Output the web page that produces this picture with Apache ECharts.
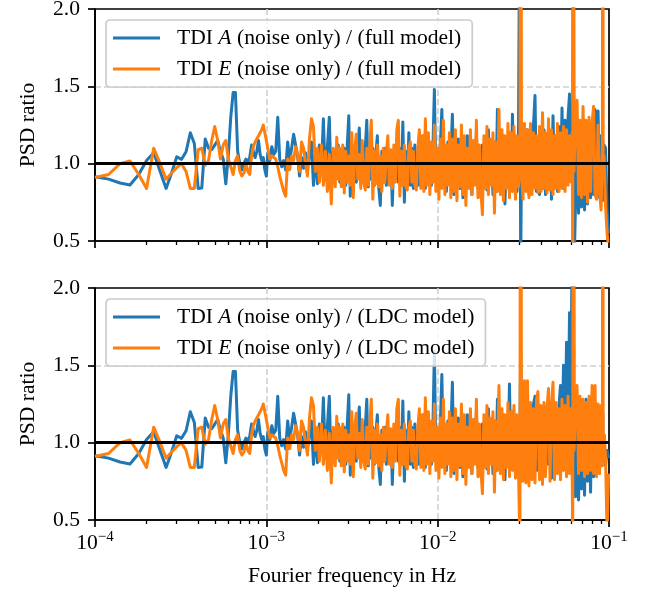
<!DOCTYPE html>
<html><head><meta charset="utf-8">
<script src="https://cdn.jsdelivr.net/npm/echarts@6/dist/echarts.min.js"></script>
<style>html,body{margin:0;padding:0;background:#fff}#main{width:650px;height:597px}</style>
</head><body><div id="main"></div>
<script>
// ---------------- data ----------------
const xTickValues = [1e-4, 1e-3, 1e-2, 1e-1];
const xMinorTicks = [2e-4,3e-4,4e-4,5e-4,6e-4,7e-4,8e-4,9e-4,2e-3,3e-3,4e-3,5e-3,6e-3,7e-3,8e-3,9e-3,2e-2,3e-2,4e-2,5e-2,6e-2,7e-2,8e-2,9e-2];

// 1e-4 .. 1e-3 Hz
const freqLow = [1.0e-4,1.2e-4,1.4e-4,1.6e-4,1.8e-4,2.0e-4,2.2e-4,2.4e-4,2.6e-4,2.8e-4,
  3.0e-4,3.2e-4,3.4e-4,3.6e-4,3.8e-4,4.0e-4,4.2e-4,4.4e-4,4.6e-4,4.8e-4,
  5.0e-4,5.2e-4,5.4e-4,5.6e-4,5.8e-4,6.0e-4,6.2e-4,6.4e-4,6.6e-4,6.8e-4,
  7.0e-4,7.2e-4,7.4e-4,7.6e-4,7.8e-4,8.0e-4,8.2e-4,8.4e-4,8.6e-4,8.8e-4,
  9.0e-4,9.2e-4,9.4e-4,9.6e-4,9.8e-4,10.0e-4];
const A_low = [0.916,0.90,0.875,0.862,0.93,1.02,1.07,0.95,0.84,0.94,
  1.045,1.028,1.077,1.20,1.131,0.84,0.842,1.16,1.10,1.09,
  1.12,1.15,1.08,1.03,0.87,1.05,1.30,1.46,1.46,1.08,
  1.00,0.96,1.00,1.03,1.01,1.04,1.12,1.13,1.04,1.08,
  1.15,1.06,1.02,1.04,0.96,0.92];
const E_low = [0.91,0.93,1.00,1.017,0.93,0.84,1.10,1.00,0.90,0.94,
  0.974,1.00,0.95,0.84,0.84,1.09,1.10,0.99,1.02,1.15,
  1.24,1.15,1.03,1.12,1.15,1.03,0.98,0.93,1.02,1.05,
  0.95,0.92,0.94,1.00,0.95,0.93,1.05,1.11,1.14,1.16,
  1.15,1.20,1.22,1.25,1.20,1.15];

// 1e-3 .. 2.5e-3 Hz
const freqMid1 = [1.020e-3,1.048e-3,1.076e-3,1.105e-3,1.135e-3,1.166e-3,1.197e-3,1.230e-3,1.263e-3,1.297e-3,
  1.332e-3,1.368e-3,1.405e-3,1.443e-3,1.482e-3,1.522e-3,1.563e-3,1.605e-3,1.649e-3,1.693e-3,
  1.739e-3,1.786e-3,1.834e-3,1.884e-3,1.935e-3,1.987e-3,2.041e-3,2.096e-3,2.152e-3,2.210e-3,
  2.270e-3,2.331e-3,2.394e-3,2.459e-3,2.525e-3];
const A_mid1 = [1.07,1.02,1.11,1.06,1.08,1.30,1.03,0.98,1.02,0.96,
  1.14,1.02,1.10,1.19,1.12,1.05,0.92,1.04,0.97,1.07,
  0.96,1.05,1.14,0.86,1.08,0.87,1.12,0.95,1.29,0.90,
  1.10,1.30,0.82,1.08,0.92];
const E_mid1 = [1.16,1.03,1.05,1.04,1.03,0.98,0.92,0.87,0.82,0.79,
  1.03,0.96,1.05,1.02,1.11,1.06,0.95,1.14,1.10,1.00,
  0.92,1.16,1.29,1.24,0.95,1.10,0.88,1.12,0.86,1.08,
  0.82,1.06,0.74,1.10,0.85];

// 2.5e-3 .. 8e-3 Hz
const freqMid2 = [2.577e-3,2.629e-3,2.683e-3,2.738e-3,2.793e-3,2.850e-3,2.908e-3,2.968e-3,3.028e-3,3.090e-3,
  3.153e-3,3.217e-3,3.283e-3,3.350e-3,3.418e-3,3.488e-3,3.559e-3,3.632e-3,3.706e-3,3.781e-3,
  3.858e-3,3.937e-3,4.017e-3,4.099e-3,4.183e-3,4.268e-3,4.355e-3,4.444e-3,4.535e-3,4.627e-3,
  4.721e-3,4.818e-3,4.916e-3,5.016e-3,5.118e-3,5.223e-3,5.329e-3,5.438e-3,5.549e-3,5.662e-3,
  5.777e-3,5.895e-3,6.015e-3,6.138e-3,6.263e-3,6.391e-3,6.521e-3,6.654e-3,6.790e-3,6.928e-3,
  7.069e-3,7.213e-3,7.360e-3,7.510e-3,7.663e-3,7.820e-3,7.979e-3];
const A_mid2 = [0.92,1.12,0.88,1.08,0.90,1.10,0.86,1.12,1.31,0.79,
  1.08,0.90,1.05,0.88,1.10,1.23,0.87,1.06,0.92,1.10,
  1.28,0.85,1.02,0.90,1.10,0.86,1.05,1.18,0.84,0.73,
  1.08,0.88,1.10,0.86,1.04,0.90,1.08,0.73,1.06,0.90,
  1.02,0.88,1.10,0.86,1.27,0.75,1.08,0.88,1.20,0.86,
  1.10,0.84,1.12,0.90,1.06,0.86,1.10];
const E_mid2 = [1.17,0.90,1.10,0.85,1.12,0.81,1.08,0.88,1.05,0.86,
  1.20,0.78,1.10,1.19,0.90,1.06,0.84,1.15,0.88,0.83,
  1.10,0.86,1.12,1.28,0.77,1.08,0.87,1.12,0.85,1.05,
  0.82,1.10,0.88,1.06,1.18,0.86,1.09,0.84,1.12,0.88,
  1.22,1.28,0.79,1.08,0.86,1.12,0.85,0.83,1.10,1.14,
  0.88,1.08,0.86,0.83,1.10,1.22,0.84];

// 8e-3 .. 1e-1 Hz
const freqHigh = [8.142e-3,8.308e-3,8.478e-3,8.651e-3,8.827e-3,9.007e-3,9.191e-3,9.378e-3,9.569e-3,9.764e-3,
  9.963e-3,10.17e-3,10.37e-3,10.58e-3,10.80e-3,11.02e-3,11.24e-3,11.47e-3,11.71e-3,11.94e-3,
  12.19e-3,12.44e-3,12.69e-3,12.95e-3,13.21e-3,13.48e-3,13.76e-3,14.04e-3,14.32e-3,14.61e-3,
  14.91e-3,15.22e-3,15.53e-3,15.84e-3,16.17e-3,16.50e-3,16.83e-3,17.18e-3,17.53e-3,17.88e-3,
  18.25e-3,18.62e-3,19.00e-3,19.39e-3,19.78e-3,20.19e-3,20.60e-3,21.02e-3,21.45e-3,21.88e-3,
  22.33e-3,22.78e-3,23.25e-3,23.72e-3,24.21e-3,24.70e-3,25.20e-3,25.72e-3,26.24e-3,26.78e-3,
  27.32e-3,27.88e-3,28.45e-3,29.03e-3,29.62e-3,30.22e-3,30.50e-3,30.84e-3,31.47e-3,32.11e-3,
  32.77e-3,33.44e-3,34.12e-3,34.82e-3,35.53e-3,36.25e-3,36.99e-3,37.74e-3,38.51e-3,39.30e-3,
  40.10e-3,40.92e-3,41.75e-3,42.60e-3,43.47e-3,44.36e-3,45.26e-3,46.18e-3,47.12e-3,48.08e-3,
  49.06e-3,50.06e-3,51.08e-3,52.12e-3,53.18e-3,54.27e-3,55.38e-3,56.51e-3,57.66e-3,58.83e-3,
  60.03e-3,60.95e-3,61.43e-3,61.90e-3,62.50e-3,63.78e-3,65.08e-3,66.41e-3,67.76e-3,69.14e-3,
  70.55e-3,71.99e-3,73.46e-3,74.96e-3,76.49e-3,78.05e-3,79.64e-3,81.26e-3,82.92e-3,84.61e-3,
  86.34e-3,88.10e-3,89.90e-3,91.55e-3,92.00e-3,92.45e-3,93.60e-3,95.51e-3,97.46e-3,99.45e-3];
const A_high_full = [0.95,1.18,0.84,1.12,0.88,1.08,0.86,1.10,1.48,0.90,
  1.06,0.84,1.12,1.35,0.88,1.08,0.82,1.14,0.90,1.06,
  1.32,0.80,1.10,0.86,1.16,0.84,1.08,0.78,1.12,0.88,
  1.18,0.86,1.06,0.80,1.14,0.88,1.20,0.84,1.08,0.78,
  1.12,0.86,1.16,0.83,1.22,0.88,1.10,0.80,1.14,0.85,
  1.35,0.86,1.12,0.82,1.18,0.74,1.10,0.86,1.20,0.84,
  1.32,0.86,1.12,0.82,1.16,3.00,0.30,1.00,0.82,1.18,
  0.84,1.22,0.80,1.16,0.86,1.25,1.44,0.82,1.12,0.80,
  1.18,0.84,1.22,0.80,1.14,0.86,1.20,0.77,1.31,0.84,
  1.18,0.82,1.24,0.86,1.36,0.84,1.28,0.88,1.30,1.45,
  0.90,1.20,1.10,3.00,0.30,0.75,1.15,0.68,1.18,0.72,
  1.20,0.70,1.16,0.74,1.22,0.78,1.20,0.80,1.35,0.82,
  1.34,0.78,1.18,0.76,1.15,0.90,1.12,1.10,0.70,0.55];
const E_high_full = [1.18,0.82,1.29,0.86,1.20,0.80,1.14,0.88,1.25,0.82,
  1.10,0.77,1.16,0.84,1.28,0.80,1.12,0.86,1.20,0.78,
  1.16,0.82,1.22,0.76,1.12,0.85,1.25,0.80,1.18,0.73,
  1.10,0.84,1.22,0.80,1.15,0.86,1.28,0.78,1.12,0.82,
  0.67,1.18,0.84,1.24,0.80,1.16,0.86,1.20,0.68,1.14,
  0.82,1.35,0.80,1.22,0.76,1.18,0.84,1.26,0.78,1.20,
  0.82,1.24,0.77,1.18,0.85,1.00,6.00,0.95,0.77,1.26,
  0.82,1.22,0.78,1.26,0.80,1.20,0.84,1.18,0.81,1.24,
  0.82,1.33,0.84,1.20,0.81,1.29,0.83,1.22,0.80,1.18,
  0.84,1.26,0.82,1.20,0.84,1.24,0.82,1.22,0.86,1.18,
  0.88,1.20,0.30,6.00,0.95,1.30,1.41,0.80,1.28,0.78,
  1.37,0.80,1.28,0.75,1.30,0.82,1.26,1.37,0.80,0.77,
  1.25,0.82,0.70,1.10,6.00,0.90,1.05,0.72,0.55,0.45];
const A_high_ldc = [0.95,1.18,0.84,1.12,0.88,1.08,0.86,1.10,1.59,0.90,
  1.06,0.84,1.12,1.44,0.88,1.08,0.82,1.14,0.90,1.06,
  1.39,0.80,1.10,0.86,1.16,0.84,1.08,0.78,1.12,0.88,
  1.18,0.86,1.06,0.80,1.14,0.88,1.20,0.84,1.08,0.78,
  1.12,0.86,1.16,0.83,1.22,0.88,1.10,0.80,1.14,0.85,
  1.28,0.86,1.12,0.82,1.18,0.76,1.10,0.86,1.38,0.84,
  1.20,0.86,1.12,0.82,1.16,1.10,1.60,0.90,0.82,1.18,
  0.84,1.22,0.80,1.16,0.86,1.25,1.30,0.82,1.12,0.80,
  1.18,0.84,1.22,0.80,1.14,0.86,1.20,0.77,1.28,0.84,
  1.18,0.95,1.24,1.37,1.00,1.50,1.02,1.65,1.05,1.84,
  1.10,2.50,1.20,4.00,0.85,0.65,1.15,0.63,1.25,0.70,
  1.20,0.66,1.28,0.75,1.22,0.68,1.28,0.78,1.20,0.85,
  1.22,0.90,1.15,0.88,1.20,0.90,1.05,0.85,0.95,0.90];
const E_high_ldc = [1.18,0.82,1.29,0.86,1.20,0.80,1.14,0.88,1.25,0.82,
  1.10,0.77,1.16,0.84,1.28,0.80,1.12,0.86,1.20,0.78,
  1.16,0.82,1.22,0.76,1.12,0.85,1.25,0.80,1.18,0.73,
  1.10,0.84,1.22,0.80,1.15,0.86,1.28,0.78,1.12,0.82,
  0.67,1.18,0.84,1.24,0.80,1.16,0.86,1.20,0.68,1.14,
  0.82,1.37,0.80,1.22,0.76,1.18,0.84,1.26,0.78,1.20,
  0.82,1.24,0.77,1.18,0.85,0.30,6.00,0.95,0.75,1.40,
  0.74,1.40,0.72,1.26,0.76,1.22,0.74,1.28,1.33,0.76,
  1.24,0.73,1.26,0.78,1.22,1.35,0.75,1.24,1.39,0.76,
  1.26,0.80,1.22,0.76,1.28,0.82,1.24,0.78,1.30,0.80,
  1.22,0.84,0.30,6.00,0.95,1.25,1.37,0.80,1.30,0.82,
  1.28,0.78,1.26,0.80,1.30,0.82,1.37,0.80,1.37,0.78,
  1.25,0.80,1.24,0.85,6.00,0.90,1.05,0.90,0.40,0.80];

const names = {
  A_full: 'TDI A (noise only) / (full model)',
  E_full: 'TDI E (noise only) / (full model)',
  A_ldc: 'TDI A (noise only) / (LDC model)',
  E_ldc: 'TDI E (noise only) / (LDC model)'
};

// ---------------- build ----------------
function check(a, b, n) { if (a.length !== b.length) throw new Error('length mismatch ' + n + ' ' + a.length + ' vs ' + b.length); }
check(freqLow, A_low, 'A_low'); check(freqLow, E_low, 'E_low');
check(freqMid1, A_mid1, 'A_mid1'); check(freqMid1, E_mid1, 'E_mid1');
check(freqMid2, A_mid2, 'A_mid2'); check(freqMid2, E_mid2, 'E_mid2');
check(freqHigh, A_high_full, 'Ahf'); check(freqHigh, E_high_full, 'Ehf');
check(freqHigh, A_high_ldc, 'Ahl'); check(freqHigh, E_high_ldc, 'Ehl');

const freqAll = freqLow.concat(freqMid1, freqMid2, freqHigh);
function pairs(vals) { return freqAll.map((f, i) => [f, vals[i]]); }
const dA_full = pairs(A_low.concat(A_mid1, A_mid2, A_high_full));
const dE_full = pairs(E_low.concat(E_mid1, E_mid2, E_high_full));
const dA_ldc = pairs(A_low.concat(A_mid1, A_mid2, A_high_ldc));
const dE_ldc = pairs(E_low.concat(E_mid1, E_mid2, E_high_ldc));

const FF = 'Liberation Serif';
const FS = 21.6;
const BLUE = '#1f77b4', ORANGE = '#ff7f0e';
const gridTops = [9, 288];
const gridH = 232;
const GRIDLINE = { color: '#d0d0d0', width: 1.6, type: [6, 3] };

function xMajor(g, showLabel) {
  return {
    type: 'log', logBase: 10, gridIndex: g, min: 1e-4, max: 1e-1, position: 'bottom',
    axisLine: { show: true, onZero: false, lineStyle: { color: '#000', width: 1.7 } },
    axisTick: { show: true, inside: false, length: 7, lineStyle: { color: '#000', width: 1.7 }, customValues: xTickValues },
    axisLabel: {
      show: showLabel, margin: 10, color: '#000', showMinLabel: true, showMaxLabel: true,
      customValues: xTickValues,
      formatter: v => '{b|10}{s|\u2212' + Math.round(-Math.log10(v)) + '}',
      rich: {
        b: { fontFamily: FF, fontSize: FS, color: '#000', lineHeight: 26 },
        s: { fontFamily: FF, fontSize: 15, color: '#000', lineHeight: 14, verticalAlign: 'top' }
      }
    },
    splitLine: { show: true, showMinLine: false, showMaxLine: false, lineStyle: GRIDLINE },
    minorTick: { show: false }, minorSplitLine: { show: false },
    name: showLabel ? 'Fourier frequency in Hz' : '',
    nameLocation: 'middle', nameGap: 45,
    nameTextStyle: { fontFamily: FF, fontSize: FS, color: '#000' }
  };
}
function xMinor(g) {
  return {
    type: 'log', logBase: 10, gridIndex: g, min: 1e-4, max: 1e-1, position: 'bottom', offset: 0,
    axisLine: { show: false }, axisLabel: { show: false }, splitLine: { show: false },
    axisTick: { show: true, inside: false, length: 4, lineStyle: { color: '#000', width: 1.3 }, customValues: xMinorTicks }
  };
}
function yAxis(g) {
  return {
    type: 'value', gridIndex: g, min: 0.5, max: 2.0, interval: 0.5,
    axisLine: { show: true, lineStyle: { color: '#000', width: 1.7 } },
    axisTick: { show: true, inside: false, length: 7, lineStyle: { color: '#000', width: 1.7 } },
    axisLabel: { margin: 15, fontFamily: FF, fontSize: FS, color: '#000', formatter: v => v.toFixed(1) },
    splitLine: { show: true, showMinLine: false, showMaxLine: false, lineStyle: GRIDLINE },
    name: 'PSD ratio', nameLocation: 'middle', nameGap: 56, nameRotate: 90,
    nameTextStyle: { fontFamily: FF, fontSize: FS, color: '#000' }
  };
}
function legend(top, data) {
  return {
    show: true, orient: 'vertical', left: 106, top: top, data: data,
    icon: 'rect', itemWidth: 47, itemHeight: 3, itemGap: 5, padding: [5, 11, 5, 7],
    backgroundColor: 'rgba(255,255,255,0.8)', borderColor: '#cccccc', borderWidth: 1.7, borderRadius: 4,
    selectedMode: false,
    formatter: n => n.replace(/TDI ([AE])/, 'TDI {it|$1}'),
    textStyle: {
      fontFamily: FF, fontSize: FS, color: '#000', lineHeight: 26, padding: [0, 0, 0, 12],
      rich: { it: { fontFamily: FF, fontSize: FS, fontStyle: 'italic', color: '#000', lineHeight: 26 } }
    }
  };
}
function line(name, data, color, xi, yi, z, withMark) {
  const s = {
    type: 'line', name: name, data: data, xAxisIndex: xi, yAxisIndex: yi,
    symbol: 'none', showSymbol: false, clip: true, z: z, animation: false,
    lineStyle: { color: color, width: 3, join: 'round' }, itemStyle: { color: color },
    emphasis: { disabled: true }
  };
  if (withMark) {
    s.markLine = {
      silent: true, symbol: ['none', 'none'], label: { show: false }, animation: false,
      lineStyle: { color: '#000', width: 2.8, type: 'solid' }, emphasis: { disabled: true },
      data: [{ yAxis: 1.0 }]
    };
  }
  return s;
}

const chart = echarts.init(document.getElementById('main'), null, { renderer: 'canvas' });
chart.setOption({
  animation: false,
  backgroundColor: '#ffffff',
  grid: gridTops.map(t => ({
    left: 95, top: t, width: 514, height: gridH, containLabel: false, outerBoundsMode: 'none',
    show: true, borderColor: '#000', borderWidth: 1.7, backgroundColor: 'transparent'
  })),
  xAxis: [xMajor(0, false), xMinor(0), xMajor(1, true), xMinor(1)],
  yAxis: [yAxis(0), yAxis(1)],
  legend: [legend(20, [names.A_full, names.E_full]), legend(299, [names.A_ldc, names.E_ldc])],
  series: [
    line(names.A_full, dA_full, BLUE, 0, 0, 2, false),
    line(names.E_full, dE_full, ORANGE, 0, 0, 3, true),
    line(names.A_ldc, dA_ldc, BLUE, 2, 1, 2, false),
    line(names.E_ldc, dE_ldc, ORANGE, 2, 1, 3, true)
  ]
});
</script></body></html>
